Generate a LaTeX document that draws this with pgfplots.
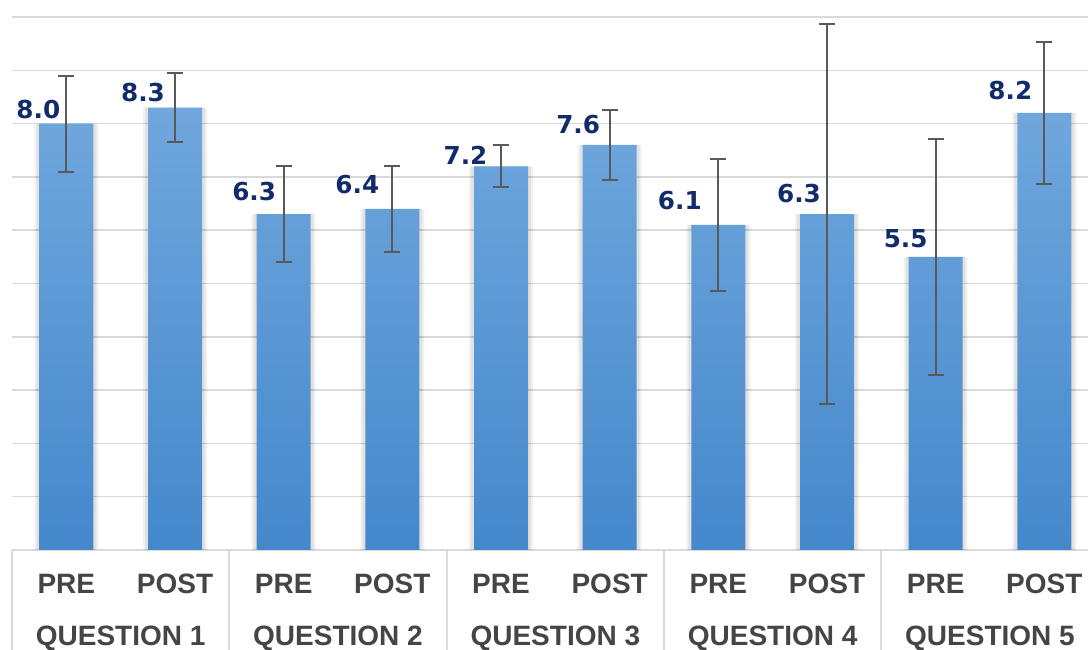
\documentclass[border=0pt]{standalone}
\usepackage{fontspec}
\setmainfont{Liberation Sans}
\newfontfamily\valfont{DejaVu Sans}
\usepackage{pgfplots}
\usepackage{pgfplotstable}
\pgfplotsset{compat=1.18}

\definecolor{gridgray}{HTML}{D9D9D9}
\definecolor{labgray}{HTML}{454545}
\definecolor{errgray}{HTML}{595959}
\definecolor{navy}{HTML}{122B6A}
\definecolor{barTop}{RGB}{112,167,221}
\definecolor{barBot}{RGB}{68,136,204}

% mean, error, label offsets (pt)
\pgfplotstableread{
x y   err  dx     dy
0 8.0 0.90 -14    2.5
1 8.3 0.65 -16    3
2 6.3 0.90 -14.75 7
3 6.4 0.80 -17.5  7.5
4 7.2 0.39 -17.75 1
5 7.6 0.66 -15.75 5.5
6 6.1 1.24 -19.25 7.5
7 6.3 3.57 -14    6
8 5.5 2.21 -15    4.5
9 8.2 1.33 -17    6.5
}\scores

\begin{document}
\begin{tikzpicture}
\begin{axis}[
  scale only axis, width=538pt, height=275pt,
  xmin=-0.5, xmax=9.402, ymin=0, ymax=10.32,
  axis line style={draw=none},
  ytick={0,...,10}, yticklabels={}, ytick style={draw=none},
  ymajorgrids, grid style={gridgray, line width=0.75pt},
  xtick={0,...,9},
  xticklabels={PRE,POST,PRE,POST,PRE,POST,PRE,POST,PRE,POST},
  minor xtick={-0.5,1.5,3.5,5.5,7.5},
  xtick pos=left, tick align=outside,
  major tick length=0pt, minor tick length=50pt,
  xtick style={gridgray, line width=1pt},
  xticklabel style={font=\bfseries\fontsize{14}{16}\selectfont, text=labgray,
    anchor=base, inner sep=0pt, yshift=-22pt},
  extra x ticks={0.5,2.5,4.5,6.5,8.5},
  extra x tick labels={QUESTION 1,QUESTION 2,QUESTION 3,QUESTION 4,QUESTION 5},
  extra x tick style={xticklabel style={yshift=-26pt}, major tick length=0pt},
]
% soft shadow behind the bars
\addplot[ybar, bar shift=0pt, bar width=32pt, draw=none, fill=black, fill opacity=0.05]
  table[x=x, y=y]{\scores};
\addplot[ybar, bar shift=0pt, bar width=30pt, draw=none, fill=black, fill opacity=0.07]
  table[x=x, y=y]{\scores};
\addplot[ybar, bar shift=0pt, bar width=27pt, draw=none, top color=barTop, bottom color=barBot,
  visualization depends on={\thisrow{dx} \as \labdx},
  visualization depends on={\thisrow{dy} \as \labdy},
  nodes near coords={\pgfmathprintnumber[fixed,fixed zerofill,precision=1,assume math mode=true]{\pgfplotspointmeta}},
  every node near coord/.append style={anchor=base, inner sep=0pt,
    xshift=\labdx pt, yshift=\labdy pt, text=navy,
    font=\valfont\bfseries\fontsize{12.35}{14}\selectfont},
  error bars/.cd, y dir=both, y explicit,
  error bar style={errgray, line width=1pt},
  error mark options={errgray, rotate=90, mark size=4pt, line width=1pt}]
  table[x=x, y=y, y error=err]{\scores};
\end{axis}
\pgfresetboundingbox
\path[use as bounding box] ([shift={(-6pt,-50pt)}]current axis.south west) rectangle (current axis.north east);
\end{tikzpicture}
\end{document}
